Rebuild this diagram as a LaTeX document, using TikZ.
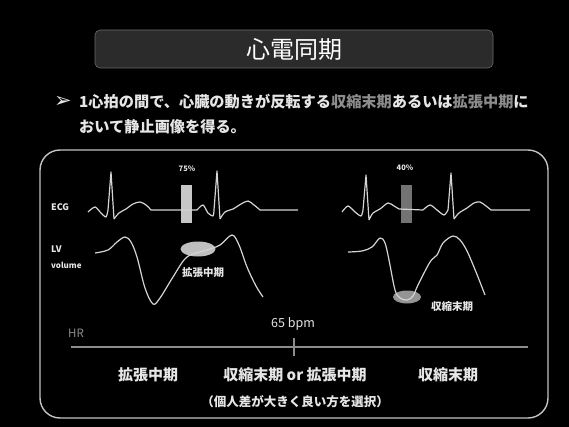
\documentclass[tikz,border=0pt]{standalone}
\usepackage{fontspec}
\setmainfont{Noto Sans CJK JP}
\newfontfamily\symfont{DejaVu Sans}
\usetikzlibrary{shapes.geometric}
\definecolor{txt}{HTML}{E6E6E6}
\definecolor{hl}{HTML}{8C8C8C}
\definecolor{titlebg}{HTML}{2B2B2B}
\begin{document}
\begin{tikzpicture}[x=1pt,y=-1pt,
  wave/.style={draw=txt!92!black, line width=1.2pt, line join=round},
  lbl/.style={text=txt, inner sep=0pt, font=\bfseries},
  marker/.style={inner sep=0pt, minimum width=11pt, minimum height=38pt}]
\useasboundingbox[fill=black] (0,0) rectangle (569,427);
% title
\node[draw=titlebg!70!white, line width=0.6pt, fill=titlebg, rounded corners=5pt,
      minimum width=398pt, minimum height=38pt, inner sep=0pt] (title) at (294,49) {};
\node[text=white, font=\fontsize{24}{26}\selectfont, inner sep=0pt] (ttext) at (294,49) {心電同期};
% bullet
\node[text=txt, inner sep=0pt, font=\symfont\bfseries\fontsize{21}{22}\selectfont] (bul) at (63,102) {➢};
\node[lbl, anchor=west, font=\fontsize{15.2}{17}\selectfont\bfseries] (l1) at (79,102)
  {1心拍の間で、心臓の動きが反転する\textcolor{hl}{収縮末期}あるいは\textcolor{hl}{拡張中期}に};
\node[lbl, anchor=west, font=\fontsize{15.2}{17}\selectfont\bfseries] (l2) at (79,127)
  {おいて静止画像を得る。};
% panel
\node[draw=txt!85!black, line width=1.4pt, rounded corners=20pt,
      minimum width=508pt, minimum height=268pt, inner sep=0pt] (panel) at (294,284) {};
% labels left
\node[lbl, anchor=west, font=\fontsize{9}{10}\selectfont\bfseries] (ecg) at (51,207) {ECG};
\node[lbl, anchor=west, font=\fontsize{9}{10}\selectfont\bfseries] (lv) at (51,249) {LV};
\node[lbl, anchor=west, font=\fontsize{8}{9}\selectfont\bfseries] (vol) at (51,265) {volume};
% markers
\node[marker, fill=black!22] (m75) at (186,204) {};
\node[lbl, font=\fontsize{7.5}{9}\selectfont\bfseries] (p75) at (187,169) {75\%};
\node[marker, fill=black!55] (m40) at (406,204) {};
\node[lbl, font=\fontsize{7.5}{9}\selectfont\bfseries] (p40) at (405,168) {40\%};
% ellipses (behind curves)
\node[ellipse, fill=black!25, minimum width=35pt, minimum height=15pt, inner sep=0pt] (e1) at (198,249) {};
\node[ellipse, fill=black!42, minimum width=28pt, minimum height=13pt, inner sep=0pt] (e2) at (407,297) {};
\node[lbl, font=\fontsize{10.5}{12}\selectfont\bfseries] (k1) at (203,273) {拡張中期};
\node[lbl, font=\fontsize{10.5}{12}\selectfont\bfseries] (s1) at (452,307) {収縮末期};
% ECG left
\draw[wave] plot[smooth, tension=0.45] coordinates {(88,212) (95,207) (101,213) (106,217) (108,210)}
  -- (111,172) -- (114,219)
  plot[smooth, tension=0.5] coordinates {(114,219) (119,213) (126,209) (133,204) (140,202) (146,205) (151,210)}
  -- (197,210)
  plot[smooth, tension=0.45] coordinates {(197,210) (203,205) (208,213) (213,216) (214,210)}
  -- (217,171) -- (220,219)
  plot[smooth, tension=0.5] coordinates {(220,219) (225,212) (233,209) (241,204) (248,201) (254,205) (260,210)}
  -- (298,210);
% ECG right
\draw[wave] plot[smooth, tension=0.45] coordinates {(342,212) (348,206) (355,212) (361,216) (363,210)}
  -- (366,175) -- (369,220)
  plot[smooth, tension=0.5] coordinates {(369,220) (373,213) (380,209) (388,203) (394,206) (399,209)}
  -- (423,210)
  plot[smooth, tension=0.45] coordinates {(423,210) (430,205) (437,210) (444,215) (448,210)}
  -- (451,173) -- (454,219)
  plot[smooth, tension=0.5] coordinates {(454,219) (459,213) (467,208) (474,203) (480,202) (486,206) (491,210)}
  -- (530,210);
% LV left
\draw[wave] plot[smooth, tension=0.55] coordinates {(95,253) (108,250) (117,242) (125,237) (131,242) (137,257) (145,288) (153,304) (160,298) (173,277) (187,257) (207,250) (220,245) (232,235) (239,245) (247,267) (256,286) (263,297)};
% LV right
\draw[wave] plot[smooth, tension=0.55] coordinates {(348,252) (362,251) (372,247) (380,238) (385,243) (389,260) (395,290) (400,298) (407,300) (413,296) (418,285) (430,262) (437,255) (443,243) (453,236) (460,240) (467,251) (476,272) (485,295)};
% HR axis
\node[text=hl, inner sep=0pt, font=\fontsize{11.5}{13}\selectfont] (hr) at (76,333) {HR};
\coordinate (a0) at (71,347);
\coordinate (a1) at (528,347);
\draw[draw=black!45, line width=2.6pt] (a0) -- (a1);
\coordinate (t0) at (294,338);
\coordinate (t1) at (294,356);
\draw[draw=black!45, line width=1.3pt] (t0) -- (t1);
\node[text=txt, inner sep=0pt, font=\fontsize{12.5}{14}\selectfont] (bpm) at (293,324) {65 bpm};
\node[lbl, font=\fontsize{15}{17}\selectfont\bfseries] (b1) at (148,375) {拡張中期};
\node[lbl, font=\fontsize{15}{17}\selectfont\bfseries] (b2) at (295,375) {収縮末期 or 拡張中期};
\node[lbl, font=\fontsize{15}{17}\selectfont\bfseries] (b3) at (448,375) {収縮末期};
\node[lbl, font=\fontsize{12.5}{14}\selectfont\bfseries] (note) at (295,402) {（個人差が大きく良い方を選択）};
\end{tikzpicture}
\end{document}
